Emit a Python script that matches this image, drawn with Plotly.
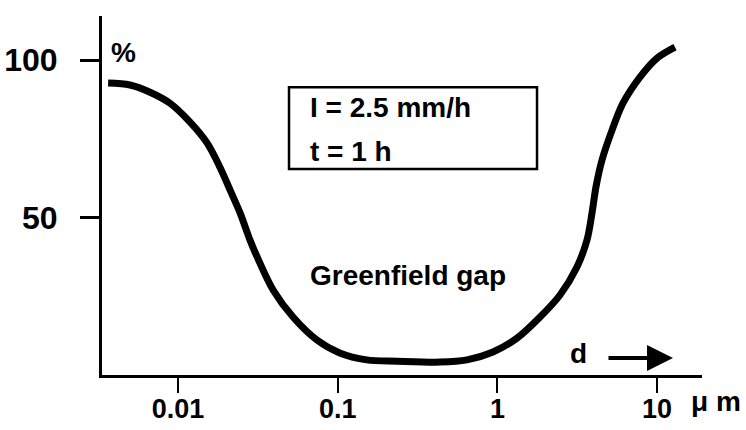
import plotly.graph_objects as go

# particle diameter d (µm) and collection / scavenging percentage
d_um = [0.00365, 0.0050, 0.00668, 0.00891, 0.0119, 0.0152, 0.0183, 0.0212, 0.0245,
        0.0282, 0.0313, 0.0394, 0.0525, 0.0741, 0.103, 0.152, 0.235, 0.437, 0.645,
        0.938, 1.327, 1.849, 2.466, 3.148, 3.64, 3.91, 4.14, 4.52, 5.14, 6.11,
        7.81, 9.98, 12.94]
pct = [92.7, 92.1, 89.8, 86.3, 80.3, 73.7, 66.0, 58.7, 51.4,
       42.9, 37.5, 27.0, 18.4, 11.1, 7.0, 4.8, 4.4, 4.1, 4.8,
       7.3, 11.7, 18.4, 25.4, 34.3, 42.9, 51.4, 59.7, 68.3, 76.8, 86.3,
       94.6, 100.6, 104.1]

x_tickvals = [0.01, 0.1, 1, 10]
x_ticktext = ["0.01", "0.1", "1", "10"]
y_tickvals = [50, 100]
y_ticktext = ["50", "100"]

FONT = "Liberation Sans"

fig = go.Figure()
fig.add_trace(go.Scatter(x=d_um, y=pct, mode="lines",
                         line=dict(color="black", width=7, shape="spline", smoothing=0.9),
                         hoverinfo="skip", showlegend=False))

fig.update_layout(
    width=746, height=430,
    margin=dict(l=102, r=44, t=16, b=55),
    paper_bgcolor="white", plot_bgcolor="white",
    showlegend=False,
    xaxis=dict(type="log", range=[-2.476, 1.281], showgrid=False, zeroline=False,
               automargin=False,
               showline=True, linecolor="black", linewidth=3,
               tickmode="array", tickvals=x_tickvals, ticktext=x_ticktext,
               ticks="outside", ticklen=15, tickwidth=2, tickcolor="black",
               ticklabelstandoff=-7,
               tickfont=dict(family=FONT, size=27, color="black", weight="bold")),
    yaxis=dict(range=[0, 114], showgrid=False, zeroline=False,
               automargin=False,
               showline=True, linecolor="black", linewidth=3,
               tickmode="array", tickvals=y_tickvals, ticktext=y_ticktext,
               ticks="outside", ticklen=19, tickwidth=3, tickcolor="black",
               ticklabelstandoff=16,
               tickfont=dict(family=FONT, size=32, color="black", weight="bold")),
)

# parameter box
fig.add_shape(type="rect", xref="x", yref="y", x0=10**-1.305, x1=10**0.248, y0=65.4, y1=91.4,
              line=dict(color="black", width=2.5), fillcolor="rgba(0,0,0,0)")

def ann(text, x, y, size, xanchor="center", yanchor="middle", xref="x", yref="y"):
    fig.add_annotation(text=text, x=x, y=y, xref=xref, yref=yref, showarrow=False,
                       xanchor=xanchor, yanchor=yanchor,
                       font=dict(family=FONT, size=size, color="black", weight="bold"))

ann("I = 2.5 mm/h", -1.185, 84.8, 28, xanchor="left")
ann("t = 1 h", -1.185, 71.1, 28, xanchor="left")
ann("Greenfield gap", -0.563, 31.5, 28)
ann("%", -2.344, 102.5, 28)
ann("d", 0.505, 6.8, 28)
ann("μ m", 1.023, -0.075, 28, xref="paper", yref="paper")

# arrow next to d
fig.add_annotation(x=1.0995, y=5.4, ax=0.686, ay=5.4, xref="x", yref="y", axref="x", ayref="y",
                   showarrow=True, arrowhead=2, arrowsize=1.3, arrowwidth=4, arrowcolor="black", text="")

fig.write_html("out.html")
